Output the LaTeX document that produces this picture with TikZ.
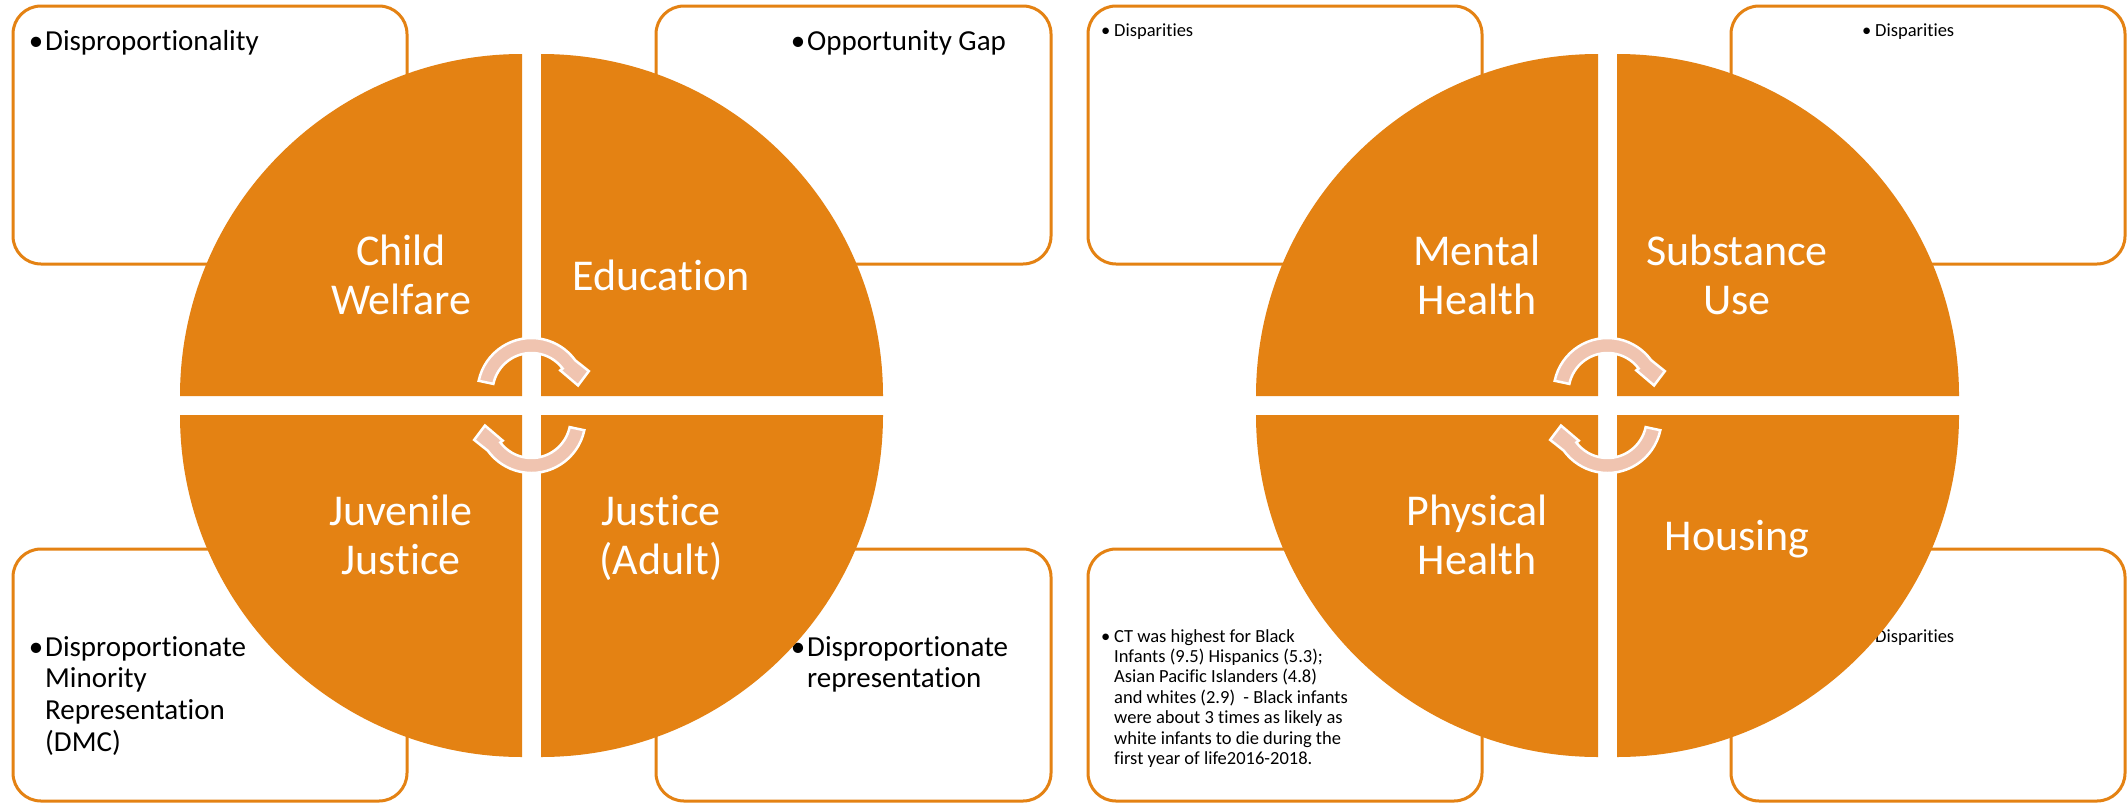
\documentclass[tikz,border=0pt]{standalone}
\usepackage{fontspec}
\setmainfont{Carlito}[Ligatures=CommonOff]
\definecolor{qorange}{RGB}{228,130,19}
\definecolor{arrowfill}{RGB}{240,196,176}
\tikzset{
  infobox/.style={draw=qorange, line width=3pt, rounded corners=28pt, fill=white, inner sep=0pt},
  quad/.style={fill=qorange},
  bigtxt/.style={text=white, inner sep=0pt, anchor=base, font=\fontsize{44}{49}\selectfont},
  boxtxt/.style={text=black, inner sep=0pt, anchor=base west, font=\fontsize{29}{31.8}\selectfont},
  smalltxt/.style={text=black, inner sep=0pt, anchor=base west, font=\fontsize{18.5}{20.4}\selectfont},
  cyc/.style={fill=arrowfill, draw=white, line width=2.5pt, line join=miter},
}
\newcommand{\bul}[1]{\leavevmode\llap{•\kern#1}}
\begin{document}
\begin{tikzpicture}[x=1pt,y=1pt]
\fill[white] (0,0) rectangle (2127,-803);
\useasboundingbox (0,0) rectangle (2127,-803);

% boxes
\node[infobox, minimum width=394pt, minimum height=258pt] (lTL) at (210,-135) {};
\node[infobox, minimum width=395pt, minimum height=258pt] (lTR) at (853.5,-135) {};
\node[infobox, minimum width=394pt, minimum height=252pt] (lBL) at (210,-675) {};
\node[infobox, minimum width=395pt, minimum height=252pt] (lBR) at (853.5,-675) {};
\node[infobox, minimum width=394pt, minimum height=258pt] (rTL) at (1285,-135) {};
\node[infobox, minimum width=394pt, minimum height=258pt] (rTR) at (1928,-135) {};
\node[infobox, minimum width=394pt, minimum height=252pt] (rBL) at (1285,-675) {};
\node[infobox, minimum width=394pt, minimum height=252pt] (rBR) at (1928,-675) {};

% box texts
\node[boxtxt] (lTLt) at (45,-50) {\bul{2pt}Disproportionality};
\node[boxtxt] (lTRt) at (807,-50) {\bul{2pt}Opportunity Gap};
\node[boxtxt] (lBLt) at (45,-656) {\parbox[t]{340pt}{\raggedright\bul{2pt}Disproportionate\\Minority\\Representation\\(DMC)}};
\node[boxtxt] (lBRt) at (807,-656) {\parbox[t]{340pt}{\raggedright\bul{2pt}Disproportionate\\representation}};
\node[smalltxt] (rTLt) at (1114,-36) {\bul{4pt}Disparities};
\node[smalltxt] (rTRt) at (1875,-36) {\bul{4pt}Disparities};
\node[smalltxt] (rBRt) at (1875,-642) {\bul{4pt}Disparities};
\node[smalltxt] (rBLt) at (1114,-642) {\parbox[t]{340pt}{\raggedright\bul{4pt}CT was highest for Black\\Infants (9.5) Hispanics (5.3);\\Asian Pacific Islanders (4.8)\\and whites (2.9)\ \ - Black infants\\were about 3 times as likely as\\white infants to die during the\\first year of life2016-2018.}};

% quadrants
\foreach \cx in {531.5,1607.5}{
  \begin{scope}[shift={(\cx,-405.5)}]
    \fill[quad] (-9.5,9.5) -- (-351.5,9.5) arc[start angle=180,end angle=90,radius=342] -- cycle;
    \fill[quad] (9.5,9.5) -- (9.5,351.5) arc[start angle=90,end angle=0,radius=342] -- cycle;
    \fill[quad] (-9.5,-9.5) -- (-9.5,-351.5) arc[start angle=270,end angle=180,radius=342] -- cycle;
    \fill[quad] (9.5,-9.5) -- (351.5,-9.5) arc[start angle=0,end angle=-90,radius=342] -- cycle;
  \end{scope}
}

% quadrant labels
\node[bigtxt] (cw) at (401,-265) {\parbox[t]{300pt}{\centering Child\\Welfare}};
\node[bigtxt] (ed) at (661,-290) {Education};
\node[bigtxt] (jj) at (401,-525) {\parbox[t]{300pt}{\centering Juvenile\\Justice}};
\node[bigtxt] (ja) at (661,-525) {\parbox[t]{300pt}{\centering Justice\\(Adult)}};
\node[bigtxt] (mh) at (1477,-265) {\parbox[t]{300pt}{\centering Mental\\Health}};
\node[bigtxt] (su) at (1737,-265) {\parbox[t]{300pt}{\centering Substance\\Use}};
\node[bigtxt] (ph) at (1477,-525) {\parbox[t]{300pt}{\centering Physical\\Health}};
\node[bigtxt] (ho) at (1737,-550) {Housing};

% cycle arrows
\foreach \cx in {531.5,1607.5}{
  \begin{scope}[shift={(\cx,-405.5)}]
    \begin{scope}[shift={(0,13.5)}]
      \path[cyc] (168:54) arc[start angle=168,end angle=36,radius=54] -- (20:61) -- (8:47) -- (37:36) -- (37:39) arc[start angle=37,end angle=168,radius=39] -- cycle;
    \end{scope}
    \begin{scope}[rotate=180, shift={(0,13.5)}]
      \path[cyc] (168:54) arc[start angle=168,end angle=36,radius=54] -- (20:61) -- (8:47) -- (37:36) -- (37:39) arc[start angle=37,end angle=168,radius=39] -- cycle;
    \end{scope}
  \end{scope}
}
\end{tikzpicture}
\end{document}
